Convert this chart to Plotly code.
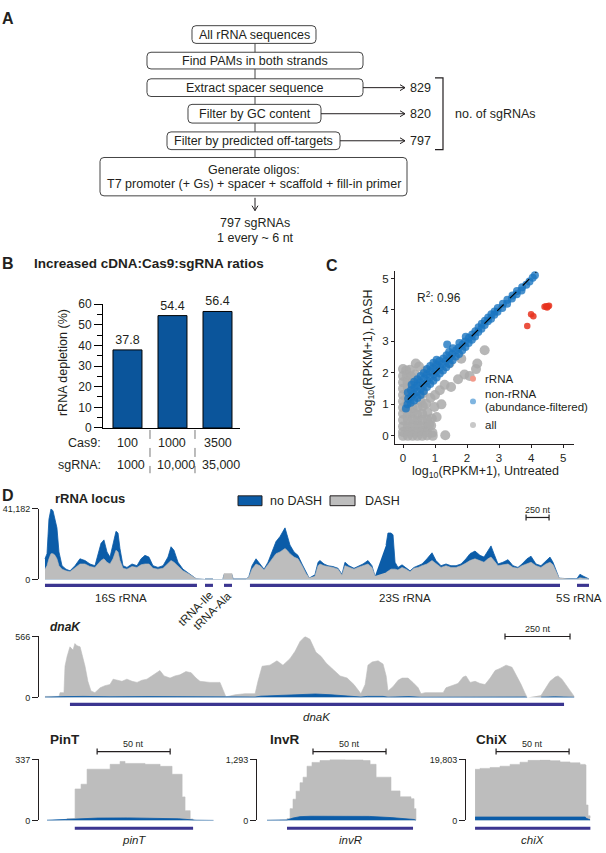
import plotly.graph_objects as go

# Page size and colours
W, H = 606, 853
INK = "#231f20"
BAR = "#0b559b"
BLUE = "#0b5ca8"
GREY = "#bdbdbd"
GENE = "#3b3590"
FONT = "Liberation Sans, Arial, sans-serif"


def fx(p):
    return p / W


def fy(p):
    return 1 - p / H


# ---------------- data ----------------
# panel A: sgRNAs left after each design step
sgrna_counts = [829, 820, 797]

# panel B: rRNA depletion for increasing cDNA:Cas9:sgRNA ratios
cas9_amounts = ["100", "1000", "3500"]
sgrna_amounts = ["1000", "10,000", "35,000"]
depletion = [37.8, 54.4, 56.4]

# panel C: log10(RPKM+1), untreated (x) vs DASH (y)
grey_x = [
    0.0, 0.1, 0.22,
    0.0, 0.12, 0.26, 0.38,
    0.0, 0.14, 0.3, 0.44,
    0.0, 0.15, 0.3,
    0.0, 0.15, 0.28,
    0.0, 0.14,
    0.0, 0.15, 0.3, 0.46, 0.62,
    0.0, 0.15, 0.3, 0.45, 0.6, 0.76,
    0.0, 0.15, 0.3, 0.45, 0.6, 0.76, 0.9,
    0.0, 0.15, 0.3, 0.45, 0.6, 0.75, 0.88,
    0.0, 0.15, 0.3, 0.45, 0.6, 0.75, 0.92,
    0.0, 0.15, 0.3, 0.45, 0.6, 0.75, 0.93,
    0.55, 0.72, 0.86, 1.0, 0.98, 1.15, 1.3, 1.5, 1.72, 1.92, 2.08, 2.28, 2.32,
    2.55, 1.82, 1.45, 1.05, 0.7, 0.5, 1.32, 0.82, 1.05, 1.2, 0.62, 0.4,
]
grey_y = [
    2.12, 2.08, 2.1,
    1.9, 1.92, 1.88, 1.95,
    1.7, 1.72, 1.68, 1.74,
    1.5, 1.52, 1.5,
    1.3, 1.28, 1.32,
    1.1, 1.08,
    0.9, 0.92, 0.88, 0.9, 0.95,
    0.7, 0.7, 0.72, 0.68, 0.7, 0.74,
    0.5, 0.5, 0.52, 0.48, 0.5, 0.52, 0.55,
    0.3, 0.3, 0.3, 0.32, 0.3, 0.28, 0.33,
    0.12, 0.13, 0.12, 0.12, 0.14, 0.12, 0.1,
    0.0, 0.0, 0.0, 0.0, 0.0, 0.01, 0.0,
    1.1, 1.02, 1.2, 1.3, 0.92, 1.45, 1.62, 1.55, 1.8, 1.95, 1.9, 2.12, 2.3,
    2.72, 2.45, 2.3, 2.25, 2.05, 2.2, 0.02, 0.35, 0.6, 1.0, 1.35, 2.3,
]
blue_x = [
    0.09,
    0.14, 0.16, 0.15,
    0.24, 0.26, 0.25, 0.27,
    0.35, 0.34, 0.36, 0.35,
    0.45, 0.44, 0.46, 0.45,
    0.55, 0.56, 0.54, 0.55,
    0.65, 0.64, 0.66, 0.65,
    0.75, 0.76, 0.74, 0.75,
    0.85, 0.84, 0.86, 0.85,
    0.95, 0.96, 0.94, 0.95,
    1.05, 1.04, 1.06, 1.05,
    1.15, 1.16, 1.14,
    1.25, 1.24, 1.26,
    1.35, 1.34, 1.36, 1.38,
    1.45, 1.46, 1.44,
    1.55, 1.54, 1.56,
    1.65, 1.66,
    1.75, 1.74, 1.76,
    1.85, 1.86,
    1.95, 1.94, 1.96,
    2.05, 2.06,
    2.15, 2.16,
    2.25, 2.26,
    2.35, 2.36,
    2.45, 2.46,
    2.55, 2.56,
    2.65, 2.66,
    2.75, 2.76,
    2.85, 2.86,
    2.95, 2.96,
    3.1, 3.12,
    3.25, 3.26,
    3.4, 3.42,
    3.55, 3.56,
    3.7, 3.72,
    3.85, 3.95, 4.05, 4.12,
]
blue_y = [
    0.87,
    1.0, 1.18, 1.38,
    1.05, 1.25, 1.45, 1.62,
    1.12, 1.33, 1.52, 1.72,
    1.2, 1.4, 1.6, 1.8,
    1.3, 1.5, 1.7, 1.9,
    1.42, 1.62, 1.82, 2.0,
    1.55, 1.75, 1.95, 2.12,
    1.65, 1.85, 2.05, 2.22,
    1.75, 1.95, 2.15, 2.32,
    1.85, 2.05, 2.25, 2.42,
    1.98, 2.18, 2.38,
    2.08, 2.28, 2.46,
    2.18, 2.38, 2.56, 2.9,
    2.28, 2.48, 2.66,
    2.4, 2.6, 2.78,
    2.52, 2.72,
    2.6, 2.8, 2.95,
    2.72, 2.9,
    2.82, 3.0, 3.15,
    2.95, 3.12,
    3.05, 3.22,
    3.16, 3.32,
    3.3, 3.45,
    3.4, 3.56,
    3.52, 3.66,
    3.64, 3.76,
    3.72, 3.86,
    3.85, 3.95,
    3.94, 4.06,
    4.06, 4.2,
    4.2, 4.32,
    4.36, 4.46,
    4.5, 4.6,
    4.62, 4.72,
    4.8, 4.9, 5.02, 5.1,
]
rrna_x = [3.88, 4.0, 4.07, 4.42, 4.47, 4.52, 4.56, 4.5]
rrna_y = [3.49, 3.86, 3.8, 4.1, 4.12, 4.11, 4.13, 4.08]
fit_x = [0.15, 4.16]
fit_y = [1.15, 5.2]

# panel D: rRNA locus coverage (nt, thousands of reads)
rrna_pos = [
    0, 22, 43, 65, 87, 109, 130, 152, 185, 228, 272, 326, 380, 435, 489, 543, 576, 609, 641, 674,
    707, 739, 772, 794, 815, 848, 891, 946, 1000, 1044, 1087, 1130, 1174, 1228, 1283, 1337, 1370,
    1402, 1446, 1500, 1554, 1609, 1641,
    1690,
    1739, 1826,
    1880,
    1935, 1946, 2033, 2044, 2076, 2185,
    2200,
    2218, 2250, 2294, 2337, 2381, 2424, 2467, 2511, 2555, 2587, 2609, 2631, 2663, 2707, 2750, 2794,
    2837, 2870,
    2900,
    2935, 2968, 2989, 3033, 3076, 3131, 3185, 3228, 3261, 3304, 3359, 3402, 3457, 3511, 3554, 3587,
    3650,
    3707, 3728, 3761, 3783, 3805, 3837, 3881, 3924, 3968, 4011, 4055, 4098, 4152, 4207, 4250, 4305,
    4359, 4413, 4468, 4522, 4576, 4620, 4674, 4728, 4772, 4815, 4848, 4880, 4924, 4978, 5033, 5087,
    5141, 5185, 5239, 5283, 5337, 5391, 5446, 5489, 5522, 5555, 5587,
    5680,
    5783, 5815, 5848, 5892, 5913,
]
rrna_nodash = [
    12, 15, 35, 41, 40, 35, 30, 16, 8, 6, 5, 8, 12, 11, 9, 8, 14, 21, 23, 16,
    13, 20, 28, 27, 18, 8, 7, 9, 8, 12, 14, 13, 8, 7, 8, 13, 19,
    17, 10, 6, 4, 1.5, 0.5,
    None,
    0.3, 0.3,
    None,
    0.3, 2.8, 2.8, 0.3, 0.3, 0.3,
    None,
    2, 8, 12, 9, 6, 10, 16, 22, 25, 28, 30, 26, 20, 16, 14, 9,
    4, 1,
    None,
    3, 10, 11, 9, 8, 7.5, 6.5, 3, 10, 8, 6.5, 7.5, 9, 11, 8, 2,
    None,
    20, 27, 27, 26, 10, 7, 8.5, 6.5, 5, 7, 8, 9, 12, 15.5, 11, 8,
    9, 8, 8, 9, 12, 15, 16.5, 14, 13, 17, 19.5, 15, 9, 10, 11.5, 8,
    7, 9, 12, 13.5, 9, 8, 11, 13, 10, 5, 1,
    None,
    0.5, 3, 2, 1, 0.3,
]
rrna_dash = [
    6, 8, 12, 15, 15, 14, 12, 8, 6, 5, 4.5, 6.5, 9, 9, 7.5, 7, 9, 11, 12, 10,
    9, 12, 17, 16, 11, 6.5, 6, 7.5, 7, 8.5, 9, 9, 6.5, 6, 6.5, 9, 11,
    10, 7.5, 5, 3.5, 1.3, 0.5,
    None,
    0.3, 0.3,
    None,
    0.3, 3.4, 3.4, 0.3, 0.3, 0.3,
    None,
    1.5, 6, 9, 8, 5.5, 8.5, 12, 15, 16, 17, 18, 17, 15, 13, 12, 8,
    3.5, 1,
    None,
    2, 8, 9, 8, 7.5, 7, 6, 2.5, 8, 7, 6, 7, 8, 9, 7, 2,
    None,
    4, 5, 6, 6, 6, 5.5, 7, 6, 4.5, 6.5, 7, 8, 9, 11, 9, 7,
    8, 7, 7, 8, 9.5, 11, 12, 11, 10, 12, 13, 11, 8, 8.5, 9, 7,
    6.5, 8, 9, 10, 8, 7, 9, 10, 8.5, 4.5, 1,
    None,
    0.3, 1, 0.7, 0.5, 0.3,
]
rrna_genes = ["16S rRNA", "tRNA-Ile", "tRNA-Ala", "23S rRNA", "5S rRNA"]
rrna_gene_start = [0, 1739, 1946, 2228, 5783]
rrna_gene_end = [1652, 1826, 2033, 5598, 5913]

# dnaK coverage (nt, reads)
dnak_pos = [
    0, 54, 58, 73, 77, 85, 96, 108, 115, 123,
    135, 146, 154, 165, 177, 192, 212, 231, 250, 262,
    277, 296, 315, 335, 354, 373, 392, 412, 442, 458,
    481, 500, 519, 542, 562, 581, 596, 635, 673, 696,
    731, 769, 808, 819, 835, 865, 892, 915, 942, 962,
    981, 1000, 1019, 1042, 1062, 1081, 1108, 1135, 1162, 1188,
    1215, 1231, 1242, 1258, 1281, 1300, 1312, 1319, 1338, 1358,
    1373, 1396, 1415, 1435, 1446, 1462, 1500, 1531, 1542, 1566,
    1588, 1608, 1619, 1635, 1654, 1673, 1692, 1712, 1731, 1750,
    1773, 1796, 1815, 1831, 1846, 1854, 1880, 1908, 1923, 1942,
    1962, 1973, 1988, 2008, 2023, 2035,
]
dnak_dash = [
    10, 10, 45, 45, 290, 380, 470, 440, 500, 480,
    470, 380, 290, 150, 60, 45, 90, 110, 120, 170,
    160, 150, 170, 150, 140, 160, 170, 200, 250, 200,
    180, 200, 210, 240, 230, 180, 150, 140, 140, 5,
    25, 35, 35, 150, 290, 300, 340, 300, 360, 430,
    520, 566, 540, 420, 380, 320, 260, 200, 180, 120,
    35, 120, 300, 330, 340, 310, 200, 60, 100, 160,
    180, 180, 140, 90, 35, 45, 45, 45, 90, 110,
    130, 190, 200, 140, 150, 130, 120, 180, 250, 270,
    300, 280, 200, 120, 40, 0, None, 20, 80, 150,
    190, 200, 170, 100, 40, 10,
]
dnak_pos_nd = [0, 54, 77, 150, 250, 400, 550, 673, 696, 731, 808, 830, 900, 980, 1040, 1100, 1190,
               1215, 1240, 1300, 1319, 1400, 1446, 1531, 1550, 1650, 1750, 1846, 1854, 1880, 1908,
               1960, 2035]
dnak_nodash = [3, 3, 8, 10, 6, 8, 6, 5, 2, 3, 4, 12, 20, 30, 32, 25, 10,
               4, 10, 10, 3, 8, 2, 2, 6, 8, 6, 4, 0, None, 3,
               6, 2]
dnak_gene = [96, 1996]

# small RNAs (nt, reads)
pint_pos = [0, 13.7, 19.2, 23.3, 27.4, 43.2, 50, 53.4, 67.1, 77.4, 85.6, 92.5, 94.5, 98, 100, 114]
pint_dash = [0, 10, 174, 200, 283, 310, 326, 315, 310, 299, 255, 130, 54, 8, 0, 0]
pint_pos_nd = [0, 19.2, 35, 55, 75, 90, 98, 102, 114]
pint_nodash = [1, 8, 13, 14, 12, 9, 4, 1, 0]
pint_gene = [19, 100]

invr_pos = [0, 8.9, 13.7, 15.8, 17.8, 19.9, 22.6, 24.7, 27.4, 30.8, 36.3, 43.2, 53.4, 65.8, 70.6,
            74.7, 84.9, 91.1, 98.6, 100.7, 102]
invr_dash = [5, 10, 40, 250, 450, 620, 800, 917, 1150, 1230, 1270, 1293, 1285, 1270, 1190,
             917, 626, 500, 460, 250, 0]
invr_pos_nd = [0, 13.7, 17.8, 22.6, 30, 50, 70, 85, 95, 100.7, 102]
invr_nodash = [2, 10, 50, 80, 88, 90, 85, 60, 40, 20, 5]
invr_gene = [13.7, 100]

chix_pos = [0, 3.4, 10.3, 17.1, 24, 30.8, 36.3, 44.5, 51.4, 58.2, 65, 71.9, 75.4, 76, 77.4, 78.8]
chix_dash = [16600, 16900, 17200, 17600, 18200, 18900, 19500, 19600, 19400, 19000, 18700, 18200,
             18000, 5000, 1500, 800]
chix_pos_nd = [0, 20, 40, 60, 75.4, 76.5, 78.8]
chix_nodash = [1100, 1150, 1200, 1150, 1100, 600, 200]
chix_gene = [0, 79]

# ---------------- helpers ----------------
shapes = []
notes = []


def note(x, y, text, size=12.5, xa="center", ya="middle", xref="paper", **kw):
    xx = fx(x) if xref == "paper" else x
    notes.append(dict(xref=xref, yref="paper", x=xx, y=fy(y), text=text, showarrow=False,
                      xanchor=xa, yanchor=ya, font=dict(size=size, color=INK, family=FONT), **kw))


def hline(x0, x1, y, xref="paper", color=INK, width=1, dash="solid"):
    a = fx(x0) if xref == "paper" else x0
    b = fx(x1) if xref == "paper" else x1
    shapes.append(dict(type="line", xref=xref, yref="paper", x0=a, x1=b, y0=fy(y), y1=fy(y),
                       line=dict(color=color, width=width, dash=dash)))


def vline(x, y0, y1, xref="paper", color=INK, width=1, dash="solid"):
    a = fx(x) if xref == "paper" else x
    shapes.append(dict(type="line", xref=xref, yref="paper", x0=a, x1=a, y0=fy(y0), y1=fy(y1),
                       line=dict(color=color, width=width, dash=dash)))


def poly(points, width=1, color=INK):
    d = " L".join(f"{fx(px):.5f},{fy(py):.5f}" for px, py in points)
    shapes.append(dict(type="path", xref="paper", yref="paper", path="M" + d,
                       line=dict(color=color, width=width)))


def rounded(x0, y0, x1, y1, r=4):
    X = lambda p: f"{fx(p):.5f}"
    Y = lambda p: f"{fy(p):.5f}"
    return (f"M{X(x0 + r)},{Y(y0)} L{X(x1 - r)},{Y(y0)} Q{X(x1)},{Y(y0)} {X(x1)},{Y(y0 + r)} "
            f"L{X(x1)},{Y(y1 - r)} Q{X(x1)},{Y(y1)} {X(x1 - r)},{Y(y1)} "
            f"L{X(x0 + r)},{Y(y1)} Q{X(x0)},{Y(y1)} {X(x0)},{Y(y1 - r)} "
            f"L{X(x0)},{Y(y0 + r)} Q{X(x0)},{Y(y0)} {X(x0 + r)},{Y(y0)} Z")


def scale_bar(xref, a, b, y, label):
    hline(a, b, y, xref=xref, width=1.2)
    vline(a, y - 3, y + 3, xref=xref, width=1.2)
    vline(b, y - 3, y + 3, xref=xref, width=1.2)
    note((a + b) / 2, y - 8, label, size=9, xref=xref)


def gene_bar(xref, a, b, y):
    shapes.append(dict(type="rect", xref=xref, yref="paper", x0=a, x1=b, y0=fy(y + 1.6),
                       y1=fy(y - 1.6), fillcolor=GENE, line=dict(width=0)))


fig = go.Figure()

# ---------------- panel A: flowchart ----------------
note(8, 12, "<b>A</b>", size=16)
boxes = [(192, 19, 316, 37, "All rRNA sequences"),
         (147, 46, 363, 63, "Find PAMs in both strands"),
         (147, 73, 363, 91, "Extract spacer sequence"),
         (188, 99, 321, 118, "Filter by GC content"),
         (167, 127, 340, 145, "Filter by predicted off-targets"),
         (100, 153, 407, 192, "")]
for x0, y0, x1, y1, label in boxes:
    shapes.append(dict(type="path", xref="paper", yref="paper", path=rounded(x0, y0, x1, y1),
                       line=dict(color="#444444", width=1)))
    if label:
        note((x0 + x1) / 2, (y0 + y1) / 2, label)
note(254, 166, "Generate oligos:")
note(254, 180, "T7 promoter (+ Gs) + spacer + scaffold + fill-in primer")
for y0, y1 in [(37, 46), (63, 73), (91, 99), (118, 127), (145, 153)]:
    vline(255, y0, y1, color="#444444")

for (x0, y0, x1, y1, _), count in zip(boxes[2:5], sgrna_counts):
    yc = (y0 + y1) / 2
    hline(x1, 405, yc)
    poly([(400, yc - 3), (405, yc), (400, yc + 3)])
    note(408, yc, str(count), xa="left")
poly([(435, 72), (443, 72), (443, 145), (435, 145)], width=1.2)
note(453, 109, "no. of sgRNAs", xa="left")
vline(255, 194, 207)
poly([(252, 202), (255, 207), (258, 202)])
note(255, 220, f"{sgrna_counts[-1]} sgRNAs")
note(255, 235, "1 every ~ 6 nt")

# ---------------- panel B: bars ----------------
note(8, 261, "<b>B</b>", size=16)
note(32, 261, "<b>Increased cDNA:Cas9:sgRNA ratios</b>", size=13.5, xa="left")
fig.add_trace(go.Bar(x=[0, 1, 2], y=depletion, width=0.644, xaxis="x", yaxis="y",
                     marker=dict(color=BAR, line=dict(color="black", width=1)),
                     text=[f"{v:.1f}" for v in depletion], textposition="outside",
                     textfont=dict(size=12.5, color=INK), cliponaxis=False))
note(63, 362, "rRNA depletion (%)", textangle=-90)
note(103, 443, "Cas9:", xa="right")
note(103, 466, "sgRNA:", xa="right")
for i, (c, s) in enumerate(zip(cas9_amounts, sgrna_amounts)):
    note(i, 443, c, xref="x")
    note(i + 0.08, 466, s, xref="x")
for xs in [0.5, 1.5]:
    vline(xs, 430, 474, xref="x", color="#555555", width=0.8, dash="dash")

# ---------------- panel C: scatter ----------------
note(332, 263, "<b>C</b>", size=16)
fig.add_trace(go.Scatter(x=grey_x, y=grey_y, mode="markers", xaxis="x2", yaxis="y2",
                         marker=dict(size=10, color="rgba(170,170,170,0.85)", line=dict(width=0))))
fig.add_trace(go.Scatter(x=blue_x, y=blue_y, mode="markers", xaxis="x2", yaxis="y2",
                         marker=dict(size=8, color="rgba(28,117,192,0.8)", line=dict(width=0))))
fig.add_trace(go.Scatter(x=rrna_x, y=rrna_y, mode="markers", xaxis="x2", yaxis="y2",
                         marker=dict(size=6.5, color="rgba(232,50,30,0.85)", line=dict(width=0))))
fig.add_trace(go.Scatter(x=fit_x, y=fit_y, mode="lines", xaxis="x2", yaxis="y2",
                         line=dict(color="black", width=1.2, dash="dash")))
note(415, 295, "R<sup>2</sup>: 0.96", size=12, xa="left")
for yc, col in [(378, "#f2998a"), (401, "#7fb5e0"), (425, "#c8c8c8")]:
    shapes.append(dict(type="circle", xref="paper", yref="paper", x0=fx(470), x1=fx(476),
                       y0=fy(yc + 3), y1=fy(yc - 3), fillcolor=col, line=dict(width=0)))
note(483, 378, "rRNA", size=11.5, xa="left")
note(483, 393, "non-rRNA", size=11.5, xa="left")
note(483, 407, "(abundance-filtered)", size=11.5, xa="left")
note(483, 425, "all", size=11.5, xa="left")
note(485, 473, "log<sub>10</sub>(RPKM+1), Untreated")
note(369, 352, "log<sub>10</sub>(RPKM+1), DASH", textangle=-90)

# ---------------- panel D: coverage tracks ----------------
note(8, 497, "<b>D</b>", size=16)
note(53, 500, "<b>rRNA locus</b>", size=13, xa="left")
shapes.append(dict(type="rect", xref="paper", yref="paper", x0=fx(238), x1=fx(262), y0=fy(507),
                   y1=fy(497), fillcolor=BLUE, line=dict(color=INK, width=1)))
note(268, 502, "no DASH", xa="left")
shapes.append(dict(type="rect", xref="paper", yref="paper", x0=fx(330), x1=fx(355), y0=fy(507),
                   y1=fy(497), fillcolor=GREY, line=dict(color=INK, width=1)))
note(363, 502, "DASH", xa="left")

# rRNA locus: no DASH behind DASH
fig.add_trace(go.Scatter(x=rrna_pos, y=rrna_nodash, xaxis="x3", yaxis="y3", mode="lines",
                         fill="tozeroy", fillcolor=BLUE, line=dict(color=BLUE, width=0.8)))
fig.add_trace(go.Scatter(x=rrna_pos, y=rrna_dash, xaxis="x3", yaxis="y3", mode="lines",
                         fill="tozeroy", fillcolor=GREY, line=dict(color=GREY, width=0.6)))
for name, a, b in zip(rrna_genes, rrna_gene_start, rrna_gene_end):
    gene_bar("x3", a, b, 588)
for name, a, b in zip(rrna_genes[:1] + rrna_genes[3:4], rrna_gene_start[:1] + rrna_gene_start[3:4],
                      rrna_gene_end[:1] + rrna_gene_end[3:4]):
    note((a + b) / 2, 601, name, size=11.5, xref="x3")
note(604, 601, rrna_genes[4], size=11.5, xa="right")
note(195, 612, rrna_genes[1], size=11.5, textangle=-45)
note(212, 614, rrna_genes[2], size=11.5, textangle=-45)
scale_bar("x3", 5229, 5479, 519, "250 nt")

# dnaK
note(48, 630, "<b><i>dnaK</i></b>", size=12, xa="left")
fig.add_trace(go.Scatter(x=dnak_pos, y=dnak_dash, xaxis="x4", yaxis="y4", mode="lines",
                         fill="tozeroy", fillcolor=GREY, line=dict(color=GREY, width=0.6)))
fig.add_trace(go.Scatter(x=dnak_pos_nd, y=dnak_nodash, xaxis="x4", yaxis="y4", mode="lines",
                         fill="tozeroy", fillcolor=BLUE, line=dict(color=BLUE, width=0.8)))
gene_bar("x4", dnak_gene[0], dnak_gene[1], 709)
note(sum(dnak_gene) / 2, 722, "<i>dnaK</i>", size=11.5, xref="x4")
scale_bar("x4", 1769, 2019, 640, "250 nt")

# small RNAs
small = [("PinT", "pinT", 48, pint_pos, pint_dash, pint_pos_nd, pint_nodash, pint_gene, "x5", "y5", 34.3),
         ("InvR", "invR", 268, invr_pos, invr_dash, invr_pos_nd, invr_nodash, invr_gene, "x6", "y6", 31.5),
         ("ChiX", "chiX", 474, chix_pos, chix_dash, chix_pos_nd, chix_nodash, chix_gene, "x7", "y7", 14.4)]
for title, gene, tx, pos, dash, pos_nd, nodash, g, xa, ya, sb in small:
    note(tx, 745, f"<b>{title}</b>", size=13.5, xa="left")
    fig.add_trace(go.Scatter(x=pos, y=dash, xaxis=xa, yaxis=ya, mode="lines", line_shape="hv",
                             fill="tozeroy", fillcolor=GREY, line=dict(color=GREY, width=0.6)))
    fig.add_trace(go.Scatter(x=pos_nd, y=nodash, xaxis=xa, yaxis=ya, mode="lines",
                             fill="tozeroy", fillcolor=BLUE, line=dict(color=BLUE, width=0.8)))
    gene_bar(xa, g[0], g[1], 835)
    note((g[0] + g[1]) / 2, 847, f"<i>{gene}</i>", size=11.5, xref=xa)
    scale_bar(xa, sb, sb + 50, 757, "50 nt")

# ---------------- axes ----------------
hidden_x = dict(visible=False, showgrid=False, zeroline=False)


def track_y(anchor, top, label, dom):
    return dict(domain=dom, anchor=anchor, range=[0, top], tickvals=[0, top], ticktext=["0", label],
                ticks="outside", ticklen=6, tickcolor=INK, tickwidth=1, showline=True,
                linecolor=INK, linewidth=1, showgrid=False, zeroline=False,
                tickfont=dict(size=9, color=INK))


small_dom = [fy(827), fy(765)]
fig.update_layout(
    width=W, height=H, margin=dict(l=0, r=0, t=0, b=0),
    paper_bgcolor="white", plot_bgcolor="white", showlegend=False,
    font=dict(family=FONT, color=INK, size=12),
    xaxis=dict(domain=[fx(103), fx(240)], range=[-0.544, 2.5], anchor="y", showline=True,
               linecolor="black", linewidth=1, showticklabels=False, ticks="", showgrid=False,
               zeroline=False),
    yaxis=dict(domain=[fy(428), fy(302)], range=[0, 60], anchor="x", showline=True,
               linecolor="black", linewidth=1, tickvals=[0, 10, 20, 30, 40, 50, 60],
               ticks="outside", ticklen=8, tickcolor="black",
               minor=dict(tickvals=[5, 15, 25, 35, 45, 55], ticks="outside", ticklen=5,
                          tickcolor="black"),
               showgrid=False, zeroline=False, tickfont=dict(size=12)),
    xaxis2=dict(domain=[fx(395), fx(574)], range=[-0.25, 5.34], anchor="y2", showline=True,
                linecolor=INK, linewidth=1, tickvals=[0, 1, 2, 3, 4, 5], ticks="outside",
                ticklen=3, tickcolor=INK, showgrid=False, zeroline=False, tickfont=dict(size=11.5)),
    yaxis2=dict(domain=[fy(444), fy(268)], range=[-0.25, 5.25], anchor="x2", showline=True,
                linecolor=INK, linewidth=1, tickvals=[0, 1, 2, 3, 4, 5], ticks="outside",
                ticklen=3, tickcolor=INK, showgrid=False, zeroline=False, tickfont=dict(size=11.5)),
    xaxis3=dict(domain=[fx(39), fx(591)], range=[-65, 5935], anchor="y3", **hidden_x),
    yaxis3=track_y("x3", 41.182, "41,182", [fy(582), fy(510)]),
    xaxis4=dict(domain=[fx(39), fx(576)], range=[-23, 2042], anchor="y4", **hidden_x),
    yaxis4=track_y("x4", 566, "566", [fy(702), fy(640)]),
    xaxis5=dict(domain=[fx(39), fx(215)], range=[-5.5, 115], anchor="y5", **hidden_x),
    yaxis5=track_y("x5", 337, "337", small_dom),
    xaxis6=dict(domain=[fx(257), fx(418)], range=[-6.85, 103.4], anchor="y6", **hidden_x),
    yaxis6=track_y("x6", 1293, "1,293", small_dom),
    xaxis7=dict(domain=[fx(466), fx(592)], range=[-6.2, 80.1], anchor="y7", **hidden_x),
    yaxis7=track_y("x7", 19803, "19,803", small_dom),
    shapes=shapes,
    annotations=notes,
)

# drop the browser's default body margin so the figure sits at the page corner
fig.write_html("out.html", config={"displayModeBar": False},
               post_script="document.body.style.margin = '0px';")
